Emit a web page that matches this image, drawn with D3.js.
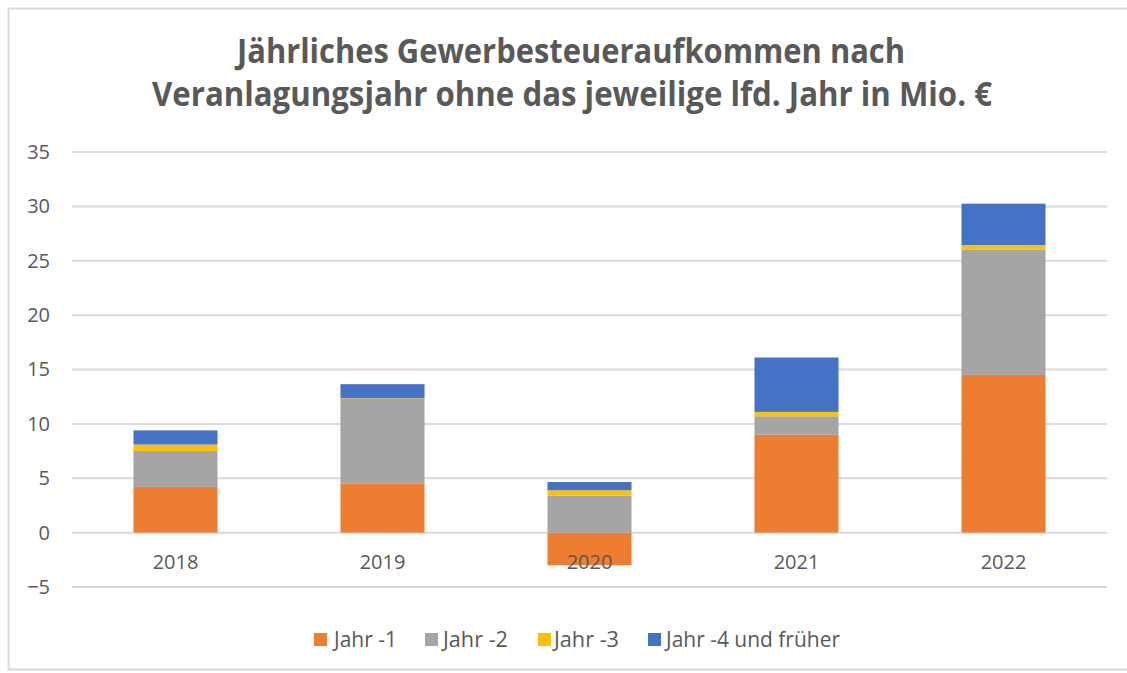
<!DOCTYPE html>
<html>
<head>
<meta charset="utf-8">
<script src="https://cdn.jsdelivr.net/npm/d3@7"></script>
<style>
  body { margin: 0; background: #fff; }
  text { font-family: "Open Sans", sans-serif; }
</style>
</head>
<body>
<div id="my_dataviz"></div>
<script>
// data
const years = ["2018", "2019", "2020", "2021", "2022"];
const seriesNames = ["Jahr -1", "Jahr -2", "Jahr -3", "Jahr -4 und früher"];
const jahr1 = [4.2, 4.5, -3.0, 9.0, 14.5];
const jahr2 = [3.3, 7.8, 3.4, 1.7, 11.5];
const jahr3 = [0.6, 0.05, 0.5, 0.4, 0.45];
const jahr4 = [1.3, 1.3, 0.75, 5.0, 3.8];
const colors = ["#ed7d31", "#a5a5a5", "#ffc000", "#4472c4"];
const yTicks = [-5, 0, 5, 10, 15, 20, 25, 30, 35];

const W = 1127, H = 673;
const margin = {top: 152, left: 72},
    width = 1107 - margin.left,
    height = 587 - margin.top;

const svg = d3.select("#my_dataviz")
  .append("svg")
    .attr("width", W)
    .attr("height", H);

// chart frame
svg.append("rect")
  .attr("x", 8.5).attr("y", 8.5)
  .attr("width", 1140).attr("height", 661)
  .attr("fill", "none")
  .attr("stroke", "#d9d9d9")
  .attr("stroke-width", 2);

// title (two lines, squeezed to the width of the original)
const titleLines = [
  {t: "Jährliches Gewerbesteueraufkommen nach", y: 63, x0: 237, x1: 905},
  {t: "Veranlagungsjahr ohne das jeweilige lfd. Jahr in Mio. €", y: 106, x0: 152, x1: 992}
];
svg.append("g")
  .selectAll("text")
  .data(titleLines)
  .join("text")
    .attr("x", d => d.x0)
    .attr("y", d => d.y)
    .attr("textLength", d => d.x1 - d.x0)
    .attr("lengthAdjust", "spacingAndGlyphs")
    .attr("fill", "#595959")
    .attr("font-weight", "bold")
    .attr("font-size", 34)
    .text(d => d.t);

const g = svg.append("g")
  .attr("transform", `translate(${margin.left}, ${margin.top})`);

const x = d3.scaleBand()
  .domain(years)
  .range([0, width])
  .paddingInner(0.594)
  .paddingOuter(0.297);

const y = d3.scaleLinear()
  .domain([-5, 35])
  .range([height, 0]);

// gridlines
g.append("g")
  .selectAll("line")
  .data(yTicks)
  .join("line")
    .attr("x1", 0).attr("x2", width)
    .attr("y1", d => y(d)).attr("y2", d => y(d))
    .attr("stroke", "#d9d9d9")
    .attr("stroke-width", 2);

// Y axis labels
const yAxis = g.append("g")
  .call(d3.axisLeft(y).tickValues(yTicks).tickSize(0).tickPadding(22));
yAxis.select(".domain").remove();
yAxis.selectAll("text")
  .attr("font-size", 20)
  .attr("fill", "#595959")
  .style("font-family", "'Open Sans', sans-serif");

// stacked data (Excel style: positives up from 0, negatives down from 0)
const seriesVals = [jahr1, jahr2, jahr3, jahr4];
const rects = [];
years.forEach((yr, i) => {
  let pos = 0, neg = 0;
  seriesVals.forEach((vals, s) => {
    const v = vals[i];
    let y0, y1;
    if (v >= 0) { y0 = pos; y1 = pos + v; pos = y1; }
    else { y0 = neg; y1 = neg + v; neg = y1; }
    rects.push({year: yr, s: s, y0: y0, y1: y1});
  });
});

g.append("g")
  .selectAll("rect")
  .data(rects)
  .join("rect")
    .attr("x", d => x(d.year))
    .attr("width", x.bandwidth())
    .attr("y", d => y(Math.max(d.y0, d.y1)))
    .attr("height", d => Math.abs(y(d.y0) - y(d.y1)))
    .attr("fill", d => colors[d.s]);

// X axis labels
const xAxis = g.append("g")
  .attr("transform", `translate(0, ${y(0)})`)
  .call(d3.axisBottom(x).tickSize(0).tickPadding(22));
xAxis.select(".domain").remove();
xAxis.selectAll("text")
  .attr("font-size", 20)
  .attr("fill", "#595959")
  .style("font-family", "'Open Sans', sans-serif");

// legend
const legendSq = [314, 425, 538, 648];
const legendTxt = [[334, 397], [443, 508], [554, 619], [666, 840]];
const legend = svg.append("g")
  .selectAll("g")
  .data(seriesNames)
  .join("g");
legend.append("rect")
  .attr("x", (d, i) => legendSq[i]).attr("y", 633)
  .attr("width", 13).attr("height", 13)
  .attr("fill", (d, i) => colors[i]);
legend.append("text")
  .attr("x", (d, i) => legendTxt[i][0])
  .attr("y", 647)
  .attr("textLength", (d, i) => legendTxt[i][1] - legendTxt[i][0])
  .attr("lengthAdjust", "spacingAndGlyphs")
  .attr("font-size", 21)
  .attr("fill", "#595959")
  .text(d => d);
</script>
</body>
</html>
